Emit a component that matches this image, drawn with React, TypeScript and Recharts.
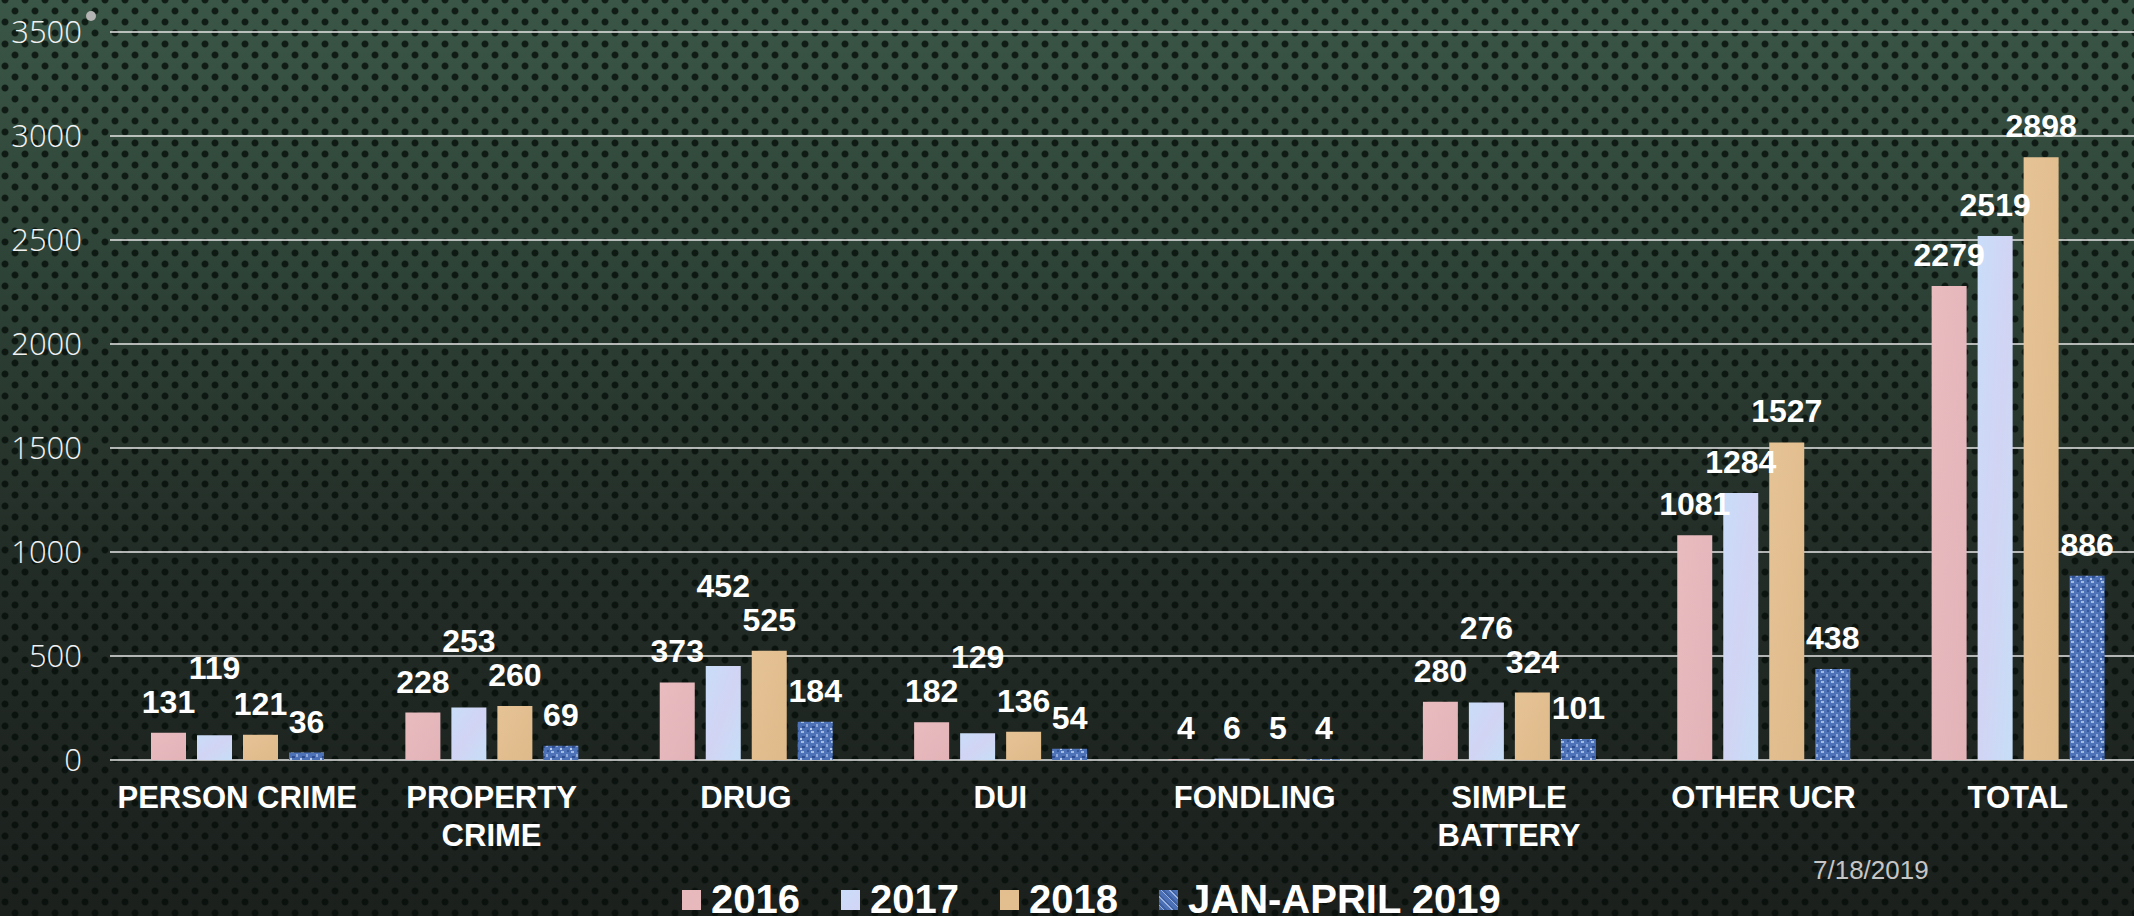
import React from "react";
import { BarChart, Bar, XAxis, YAxis, CartesianGrid, LabelList, Legend } from "recharts";

const categories = [
  "PERSON CRIME",
  "PROPERTY CRIME",
  "DRUG",
  "DUI",
  "FONDLING",
  "SIMPLE BATTERY",
  "OTHER UCR",
  "TOTAL",
];
const values2016 = [131, 228, 373, 182, 4, 280, 1081, 2279];
const values2017 = [119, 253, 452, 129, 6, 276, 1284, 2519];
const values2018 = [121, 260, 525, 136, 5, 324, 1527, 2898];
const values2019 = [36, 69, 184, 54, 4, 101, 438, 886];
const seriesNames = ["2016", "2017", "2018", "JAN-APRIL 2019"];
const yTicks = [0, 500, 1000, 1500, 2000, 2500, 3000, 3500];
const dateLabel = "7/18/2019";

const seriesValues = [values2016, values2017, values2018, values2019];

const data = categories.map((name, i) => ({
  name,
  s2016: values2016[i],
  s2017: values2017[i],
  s2018: values2018[i],
  s2019: values2019[i],
}));

const boldFont = "'Liberation Sans', Arial, sans-serif";
const LABEL_SIZE = 32;
const LABEL_GAP = 20;
const BAR_STEP = 46;
const LABEL_SEP = 34;

// value labels of neighbouring bars collide when the bars are close in height,
// so lift one of them (like the hand-placed labels on the slide)
function labelLifts(catIndex: number, pxPerUnit: number): number[] {
  const vals = seriesValues.map((s) => s[catIndex]);
  const widths = vals.map((v) => String(v).length * LABEL_SIZE * 0.556);
  const base = vals.map((v) => v * pxPerUnit + LABEL_GAP);
  const pos = [...base];
  const lifted = vals.map(() => false);
  for (let k = 1; k < vals.length; k++) {
    const overlapX = (widths[k] + widths[k - 1]) / 2 > BAR_STEP;
    if (!overlapX || Math.abs(pos[k] - pos[k - 1]) >= LABEL_SEP) continue;
    if (lifted[k - 1]) {
      pos[k - 1] = Math.max(pos[k - 1], pos[k] + LABEL_SEP);
    } else {
      pos[k] = pos[k - 1] + LABEL_SEP;
      lifted[k] = true;
    }
  }
  return pos.map((p, k) => p - base[k]);
}

const makeValueLabel = (series: number) => (props: any) => {
  const vb = props.viewBox || props;
  const { x, y, width, height } = vb;
  const value = Number(props.value);
  const idx = props.index;
  const ppu = value > 0 ? Math.abs(height) / value : 728 / 3500;
  const lift = labelLifts(idx, ppu)[series];
  return (
    <text
      x={x + width / 2}
      y={y - LABEL_GAP - lift}
      textAnchor="middle"
      fill="#ffffff"
      fontSize={LABEL_SIZE}
      fontWeight="bold"
      fontFamily={boldFont}
    >
      {value}
    </text>
  );
};

// legend swatches, same look as the bar fills
const swatchStyles: React.CSSProperties[] = [
  { background: "#e7b9bd" },
  { background: "linear-gradient(135deg, #c9ddf9, #d3d5f5)" },
  { background: "#e3bf90" },
  {
    background:
      "repeating-linear-gradient(45deg, #4c71b7 0 3px, #9ab2df 3px 4px, #3d5fa3 4px 6px)",
  },
];

// category labels wrap onto two lines when they are long
const CategoryTick = ({ x, y, payload }: any) => {
  const label: string = payload.value;
  const cut = label.lastIndexOf(" ");
  const lines = label.length > 12 && cut > 0 ? [label.slice(0, cut), label.slice(cut + 1)] : [label];
  return (
    <text
      x={x}
      y={y}
      textAnchor="middle"
      fill="#ffffff"
      fontSize={31}
      fontWeight="bold"
      fontFamily={boldFont}
    >
      {lines.map((line, i) => (
        <tspan key={i} x={x} dy={i === 0 ? 48 : 38}>
          {line}
        </tspan>
      ))}
    </text>
  );
};

const SlideLegend = ({ payload }: any) => (
  <div style={{ display: "flex", alignItems: "flex-start" }}>
    {(payload || []).map((entry: any, i: number) => (
      <div
        key={entry.value}
        style={{
          display: "flex",
          alignItems: "flex-start",
          width: i < 3 ? 159 : "auto",
          flex: "none",
        }}
      >
        <span
          style={{
            display: "inline-block",
            width: 19,
            height: 20,
            marginTop: 11,
            marginRight: 10,
            ...swatchStyles[i],
          }}
        />
        <span
          style={{
            color: "#ffffff",
            fontFamily: boldFont,
            fontWeight: "bold",
            fontSize: 40,
            lineHeight: "40px",
            whiteSpace: "nowrap",
          }}
        >
          {entry.value}
        </span>
      </div>
    ))}
  </div>
);

export default function App() {
  return (
    <div
      style={{
        position: "absolute",
        left: 0,
        top: 0,
        width: 2134,
        height: 916,
        overflow: "hidden",
        backgroundColor: "#222a25",
        backgroundImage:
          "radial-gradient(circle, rgba(6,14,10,0.8) 0, rgba(6,14,10,0.8) 2.8px, rgba(6,14,10,0) 4px)," +
          "radial-gradient(circle, rgba(6,14,10,0.8) 0, rgba(6,14,10,0.8) 2.8px, rgba(6,14,10,0) 4px)," +
          "linear-gradient(180deg, #3a5646 0%, #2e4337 30%, #232d27 60%, #1b201d 100%)",
        backgroundSize: "20px 22px, 20px 22px, 100% 100%",
        backgroundPosition: "5px 0px, 15px 11px, 0 0",
      }}
    >
      <div
        style={{
          position: "absolute",
          left: 86,
          top: 11,
          width: 10,
          height: 10,
          borderRadius: "50%",
          background: "#b4b4b4",
        }}
      />
      <div
        style={{
          position: "absolute",
          left: 1813,
          top: 857,
          fontFamily: "'Liberation Sans', Arial, sans-serif",
          fontSize: 26,
          lineHeight: "26px",
          color: "#c6c6c6",
        }}
      >
        {dateLabel}
      </div>
      <BarChart
        width={2145}
        height={916}
        data={data}
        margin={{ top: 32, right: 0, left: 0, bottom: 0 }}
        barSize={35}
        barGap={11}
      >
        <defs>
          <linearGradient id="fill2016" x1="0" y1="0" x2="1" y2="1">
            <stop offset="0%" stopColor="#e9bcc0" />
            <stop offset="100%" stopColor="#e2b2b7" />
          </linearGradient>
          <linearGradient id="fill2017" x1="0" y1="0" x2="1" y2="1">
            <stop offset="0%" stopColor="#c8ddf9" />
            <stop offset="50%" stopColor="#d2d4f4" />
            <stop offset="100%" stopColor="#c6def7" />
          </linearGradient>
          <linearGradient id="fill2018" x1="0" y1="0" x2="1" y2="1">
            <stop offset="0%" stopColor="#e6c395" />
            <stop offset="100%" stopColor="#deb98a" />
          </linearGradient>
          <pattern id="fill2019" width="10" height="10" patternUnits="userSpaceOnUse">
            <rect width="10" height="10" fill="#4d72b8" />
            <rect x="1" y="1" width="3" height="2" fill="#a3badf" />
            <rect x="6" y="4" width="2" height="3" fill="#8ea9d9" />
            <rect x="2" y="6" width="3" height="2" fill="#2f4f92" />
            <rect x="7" y="0" width="2" height="2" fill="#35579b" />
            <rect x="0" y="8" width="2" height="2" fill="#b9cbea" />
          </pattern>
        </defs>
        <CartesianGrid horizontal vertical={false} stroke="#e6e6e6" strokeWidth={1.6} />
        <XAxis
          dataKey="name"
          interval={0}
          height={156}
          axisLine={false}
          tickLine={false}
          tickSize={0}
          tickMargin={0}
          tick={<CategoryTick />}
        />
        <YAxis
          width={110}
          domain={[0, 3500]}
          ticks={yTicks}
          axisLine={false}
          tickLine={false}
          tickSize={0}
          tickMargin={28}
          tick={{ fill: "#f2f2f2", fontSize: 31, fontFamily: "'Open Sans', Lato, sans-serif", fontWeight: 300 }}
        />
        <Legend
          layout="horizontal"
          verticalAlign="middle"
          align="center"
          content={<SlideLegend />}
          wrapperStyle={{ left: 682, top: 879, width: 900, height: 40 }}
        />
        <Bar dataKey="s2016" name={seriesNames[0]} fill="url(#fill2016)" isAnimationActive={false}>
          <LabelList dataKey="s2016" content={makeValueLabel(0)} />
        </Bar>
        <Bar dataKey="s2017" name={seriesNames[1]} fill="url(#fill2017)" isAnimationActive={false}>
          <LabelList dataKey="s2017" content={makeValueLabel(1)} />
        </Bar>
        <Bar dataKey="s2018" name={seriesNames[2]} fill="url(#fill2018)" isAnimationActive={false}>
          <LabelList dataKey="s2018" content={makeValueLabel(2)} />
        </Bar>
        <Bar dataKey="s2019" name={seriesNames[3]} fill="url(#fill2019)" isAnimationActive={false}>
          <LabelList dataKey="s2019" content={makeValueLabel(3)} />
        </Bar>
      </BarChart>
    </div>
  );
}
